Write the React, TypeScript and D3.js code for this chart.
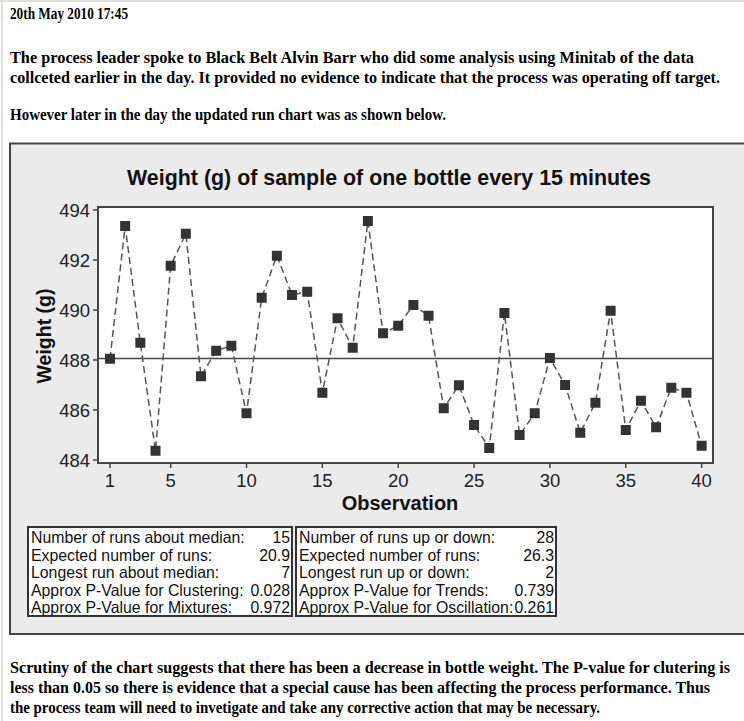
import React from "react";
import * as d3 from "d3";

// Weight of one sampled bottle, taken every 15 minutes
const observations: number[] = d3.range(1, 41);
const weights: number[] = [
  488.05, 493.36, 488.69, 484.37, 491.77, 493.05, 487.35, 488.37, 488.57, 485.87,
  490.49, 492.17, 490.6, 490.73, 486.69, 489.67, 488.49, 493.56, 489.07, 489.37,
  490.2, 489.77, 486.07, 486.99, 485.4, 484.48, 489.88, 485.0, 485.87, 488.08,
  487.0, 485.09, 486.29, 489.97, 485.2, 486.37, 485.31, 486.89, 486.69, 484.57,
];
const yTicks: number[] = [484, 486, 488, 490, 492, 494];
const xTicks: number[] = [1, 5, 10, 15, 20, 25, 30, 35, 40];

// Minitab run chart summary statistics
const medianStatLabels: string[] = [
  "Number of runs about median:",
  "Expected number of runs:",
  "Longest run about median:",
  "Approx P-Value for Clustering:",
  "Approx P-Value for Mixtures:",
];
const medianStatValues: string[] = ["15", "20.9", "7", "0.028", "0.972"];
const trendStatLabels: string[] = [
  "Number of runs up or down:",
  "Expected number of runs:",
  "Longest run up or down:",
  "Approx P-Value for Trends:",
  "Approx P-Value for Oscillation:",
];
const trendStatValues: string[] = ["28", "26.3", "2", "0.739", "0.261"];

const headerLines: { text: string; y: number; w: number }[] = [
  { text: "20th May 2010 17:45", y: 19, w: 118 },
  { text: "The process leader spoke to Black Belt Alvin Barr who did some analysis using Minitab of the data", y: 63, w: 684 },
  { text: "collceted earlier in the day. It provided no evidence to indicate that the process was operating off target.", y: 83, w: 710 },
  { text: "However later in the day the updated run chart was as shown below.", y: 120, w: 436 },
];
const footerLines: { text: string; y: number; w: number }[] = [
  { text: "Scrutiny of the chart suggests that there has been a decrease in bottle weight. The P-value for clutering is", y: 673, w: 720 },
  { text: "less than 0.05 so there is evidence that a special cause has been affecting the process performance. Thus", y: 693, w: 700 },
  { text: "the process team will need to invetigate and take any corrective action that may be necessary.", y: 713, w: 590 },
];

const W = 744;
const H = 721;
const plot = { left: 98, right: 713, top: 207, bottom: 463 };
const sans = "'Liberation Sans', Arial, sans-serif";
const serif = "'Liberation Serif', 'Times New Roman', serif";

export default function App() {
  const x = d3.scaleLinear().domain([0.21, 40.75]).range([plot.left, plot.right]);
  const y = d3.scaleLinear().domain([483.88, 494.12]).range([plot.bottom, plot.top]);
  const median = d3.median(weights) as number;
  const pts = observations.map((o, i) => [o, weights[i]] as [number, number]);
  const line = d3
    .line<[number, number]>()
    .x((d) => x(d[0]))
    .y((d) => y(d[1]));

  const statBox = (
    bx: number,
    bw: number,
    labels: string[],
    values: string[]
  ) => (
    <g>
      <rect x={bx} y={527} width={bw} height={89} fill="#fff" stroke="#333" strokeWidth={2} />
      {labels.map((l, i) => {
        const ty = 543 + i * 17.6;
        return (
          <g key={l}>
            <text transform={`translate(${bx + 3},${ty}) scale(0.96,1)`} fontFamily={sans} fontSize={16.5} fill="#111">
              {l}
            </text>
            <text transform={`translate(${bx + bw - 2},${ty}) scale(0.96,1)`} fontFamily={sans} fontSize={16.5} fill="#111" textAnchor="end">
              {values[i]}
            </text>
          </g>
        );
      })}
    </g>
  );

  return (
    <svg
      width={W}
      height={H}
      style={{ position: "absolute", left: 0, top: 0, background: "#fff" }}
    >
      <rect x={0} y={0} width={W} height={H} fill="#fff" />
      <line x1={2} y1={0} x2={2} y2={H} stroke="#d4d4d4" strokeWidth={1.5} />
      <line x1={0} y1={1} x2={W} y2={1} stroke="#d4d4d4" strokeWidth={1.5} />

      {headerLines.map((l) => (
        <text key={l.text} x={10} y={l.y} fontFamily={serif} fontWeight="bold" fontSize={16} fill="#000"
          textLength={l.w} lengthAdjust="spacingAndGlyphs">
          {l.text}
        </text>
      ))}

      {/* chart panel */}
      <rect x={10} y={143.5} width={W + 10} height={490.5} fill="#ebebeb" stroke="#444" strokeWidth={2} />

      <text x={389} y={185} textAnchor="middle" fontFamily={sans} fontWeight="bold" fontSize={21.5} fill="#111"
        textLength={524} lengthAdjust="spacingAndGlyphs">
        Weight (g) of sample of one bottle every 15 minutes
      </text>

      {/* plot area */}
      <rect x={plot.left} y={plot.top} width={plot.right - plot.left} height={plot.bottom - plot.top} fill="#fff" />

      {yTicks.map((t) => (
        <g key={t}>
          <line x1={plot.left - 5} x2={plot.left} y1={y(t)} y2={y(t)} stroke="#444" strokeWidth={1.5} />
          <text x={plot.left - 8} y={y(t) + 6.5} textAnchor="end" fontFamily={sans} fontSize={18.5} fill="#222">
            {t}
          </text>
        </g>
      ))}
      {xTicks.map((t) => (
        <g key={t}>
          <line x1={x(t)} x2={x(t)} y1={plot.bottom} y2={plot.bottom + 5} stroke="#444" strokeWidth={1.5} />
          <text x={x(t)} y={plot.bottom + 24} textAnchor="middle" fontFamily={sans} fontSize={18.5} fill="#222">
            {t}
          </text>
        </g>
      ))}

      <line x1={plot.left} x2={plot.right} y1={y(median)} y2={y(median)} stroke="#444" strokeWidth={1.5} />
      <path d={line(pts) || ""} fill="none" stroke="#555" strokeWidth={1.5} strokeDasharray="7,4" />
      {pts.map((p) => (
        <rect key={p[0]} x={x(p[0]) - 5} y={y(p[1]) - 5} width={10} height={10} fill="#333" />
      ))}

      <rect x={plot.left} y={plot.top} width={plot.right - plot.left} height={plot.bottom - plot.top}
        fill="none" stroke="#444" strokeWidth={2} />

      <text x={400} y={510} textAnchor="middle" fontFamily={sans} fontWeight="bold" fontSize={20} fill="#111">
        Observation
      </text>
      <text transform={`translate(51,336) rotate(-90)`} textAnchor="middle" fontFamily={sans} fontWeight="bold" fontSize={19.5} fill="#111">
        Weight (g)
      </text>

      {statBox(28, 264, medianStatLabels, medianStatValues)}
      {statBox(296, 260, trendStatLabels, trendStatValues)}

      {footerLines.map((l) => (
        <text key={l.text} x={10} y={l.y} fontFamily={serif} fontWeight="bold" fontSize={16} fill="#000"
          textLength={l.w} lengthAdjust="spacingAndGlyphs">
          {l.text}
        </text>
      ))}
    </svg>
  );
}
